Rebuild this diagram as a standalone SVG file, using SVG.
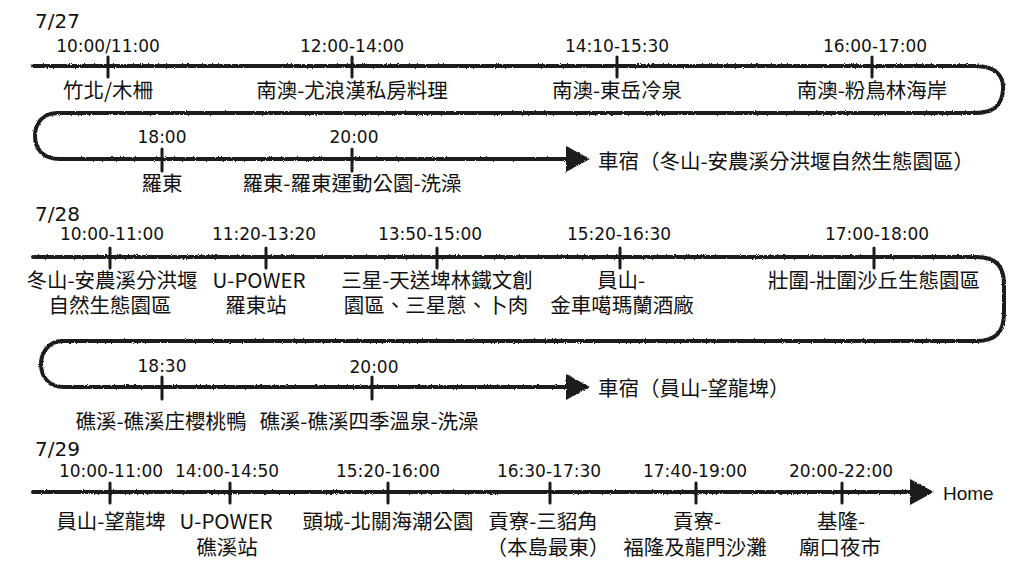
<svg xmlns="http://www.w3.org/2000/svg" width="1024" height="576" viewBox="0 0 1024 576">
<style>
.bg{fill:#fff}
.line{fill:none;stroke:#1a1a1a;stroke-width:4;stroke-linecap:round;stroke-linejoin:round}
.tick{stroke:#1a1a1a;stroke-width:3;stroke-linecap:round}
.time{font-family:"DejaVu Sans",sans-serif;font-size:17px;fill:#111;text-anchor:middle}
.date{font-family:"DejaVu Sans",sans-serif;font-size:20px;fill:#111}
.lbl{font-family:"Noto Sans CJK TC","Noto Sans CJK SC",sans-serif;font-size:20.5px;fill:#111;text-anchor:middle}
.end{font-family:"Noto Sans CJK TC","Noto Sans CJK SC",sans-serif;font-size:20.5px;fill:#111}
.home{font-family:"Liberation Sans",Arial,sans-serif;font-size:19px;fill:#111}
</style>
<defs>
<filter id="rough" filterUnits="userSpaceOnUse" x="0" y="0" width="1024" height="576">
<feTurbulence type="fractalNoise" baseFrequency="0.9" numOctaves="2" seed="4"/>
<feDisplacementMap in="SourceGraphic" scale="2.5" xChannelSelector="R" yChannelSelector="G"/>
</filter>
<marker id="arrow" markerUnits="userSpaceOnUse" markerWidth="26" markerHeight="28" refX="2" refY="13" orient="auto">
<polygon points="0,0 24,13 0,26" fill="#1a1a1a"/>
</marker>
</defs>
<rect class="bg" x="0" y="0" width="1024" height="576"/>

<g id="connectors" filter="url(#rough)">
<path class="line" d="M33,66 H975 C998,66 1004,78 1003,90 C1002,104 995,113 975,113 H58 C42,113 35,124 35,136 C35,149 43,159 60,159 H568" marker-end="url(#arrow)"/>
<path class="line" d="M33,257 H976 C998,257 1004,268 1004,285 V313 C1004,332 996,341 976,341 H62 C48,341 41,354 41,364 C41,376 48,387 64,387 H568" marker-end="url(#arrow)"/>
<path class="line" d="M33,492 H912" marker-end="url(#arrow)"/>
</g>

<g id="dates">
<text class="date" x="35" y="28">7/27</text>
<text class="date" x="35" y="221">7/28</text>
<text class="date" x="35" y="456">7/29</text>
</g>

<!-- 7/27 -->
<g id="n1"><line class="tick" x1="108" y1="57" x2="108" y2="77"/><text class="time" x="108" y="52">10:00/11:00</text><text class="lbl" x="108" y="98">竹北/木柵</text></g>
<g id="n2"><line class="tick" x1="352" y1="57" x2="352" y2="77"/><text class="time" x="352" y="52">12:00-14:00</text><text class="lbl" x="352" y="98">南澳-尤浪漢私房料理</text></g>
<g id="n3"><line class="tick" x1="617" y1="57" x2="617" y2="77"/><text class="time" x="617" y="52">14:10-15:30</text><text class="lbl" x="617" y="98">南澳-東岳冷泉</text></g>
<g id="n4"><line class="tick" x1="872" y1="57" x2="872" y2="77"/><text class="time" x="875" y="52">16:00-17:00</text><text class="lbl" x="872" y="98">南澳-粉鳥林海岸</text></g>
<g id="n5"><line class="tick" x1="162" y1="149" x2="162" y2="171"/><text class="time" x="162" y="143">18:00</text><text class="lbl" x="162" y="191">羅東</text></g>
<g id="n6"><line class="tick" x1="352" y1="149" x2="352" y2="171"/><text class="time" x="354" y="143">20:00</text><text class="lbl" x="352" y="191">羅東-羅東運動公園-洗澡</text></g>
<g id="end1"><text class="end" x="598" y="169">車宿（冬山-安農溪分洪堰自然生態園區）</text></g>

<!-- 7/28 -->
<g id="n7"><line class="tick" x1="110" y1="248" x2="110" y2="268"/><text class="time" x="112" y="240">10:00-11:00</text><text class="lbl"><tspan x="112" y="288">冬山-安農溪分洪堰</tspan><tspan x="110" y="313">自然生態園區</tspan></text></g>
<g id="n8"><line class="tick" x1="266" y1="248" x2="266" y2="268"/><text class="time" x="264" y="240">11:20-13:20</text><text class="lbl"><tspan x="259" y="288">U-POWER</tspan><tspan x="256" y="313">羅東站</tspan></text></g>
<g id="n9"><line class="tick" x1="437" y1="248" x2="437" y2="268"/><text class="time" x="430" y="240">13:50-15:00</text><text class="lbl"><tspan x="437" y="288">三星-天送埤林鐵文創</tspan><tspan x="436" y="313">園區、三星蔥、卜肉</tspan></text></g>
<g id="n10"><line class="tick" x1="620" y1="248" x2="620" y2="268"/><text class="time" x="619" y="240">15:20-16:30</text><text class="lbl"><tspan x="621" y="288">員山-</tspan><tspan x="622" y="313">金車噶瑪蘭酒廠</tspan></text></g>
<g id="n11"><line class="tick" x1="874" y1="248" x2="874" y2="268"/><text class="time" x="877" y="240">17:00-18:00</text><text class="lbl" x="874" y="288">壯圍-壯圍沙丘生態園區</text></g>
<g id="n12"><line class="tick" x1="162" y1="377" x2="162" y2="399"/><text class="time" x="162" y="372">18:30</text><text class="lbl" x="161" y="429">礁溪-礁溪庄櫻桃鴨</text></g>
<g id="n13"><line class="tick" x1="372" y1="377" x2="372" y2="399"/><text class="time" x="374" y="373">20:00</text><text class="lbl" x="369" y="429">礁溪-礁溪四季溫泉-洗澡</text></g>
<g id="end2"><text class="end" x="598" y="396">車宿（員山-望龍埤）</text></g>

<!-- 7/29 -->
<g id="n14"><line class="tick" x1="110" y1="483" x2="110" y2="503"/><text class="time" x="111" y="477">10:00-11:00</text><text class="lbl" x="111" y="529">員山-望龍埤</text></g>
<g id="n15"><line class="tick" x1="230" y1="483" x2="230" y2="503"/><text class="time" x="227" y="477">14:00-14:50</text><text class="lbl"><tspan x="226" y="529">U-POWER</tspan><tspan x="227" y="555">礁溪站</tspan></text></g>
<g id="n16"><line class="tick" x1="388" y1="483" x2="388" y2="503"/><text class="time" x="388" y="477">15:20-16:00</text><text class="lbl" x="388" y="529">頭城-北關海潮公園</text></g>
<g id="n17"><line class="tick" x1="550" y1="483" x2="550" y2="503"/><text class="time" x="549" y="477">16:30-17:30</text><text class="lbl"><tspan x="543" y="529">貢寮-三貂角</tspan><tspan x="548" y="555">（本島最東）</tspan></text></g>
<g id="n18"><line class="tick" x1="696" y1="483" x2="696" y2="503"/><text class="time" x="695" y="477">17:40-19:00</text><text class="lbl"><tspan x="697" y="529">貢寮-</tspan><tspan x="695" y="555">福隆及龍門沙灘</tspan></text></g>
<g id="n19"><line class="tick" x1="842" y1="483" x2="842" y2="503"/><text class="time" x="841" y="477">20:00-22:00</text><text class="lbl"><tspan x="841" y="529">基隆-</tspan><tspan x="840" y="555">廟口夜市</tspan></text></g>
<g id="end3"><text class="home" x="943" y="500">Home</text></g>
</svg>
